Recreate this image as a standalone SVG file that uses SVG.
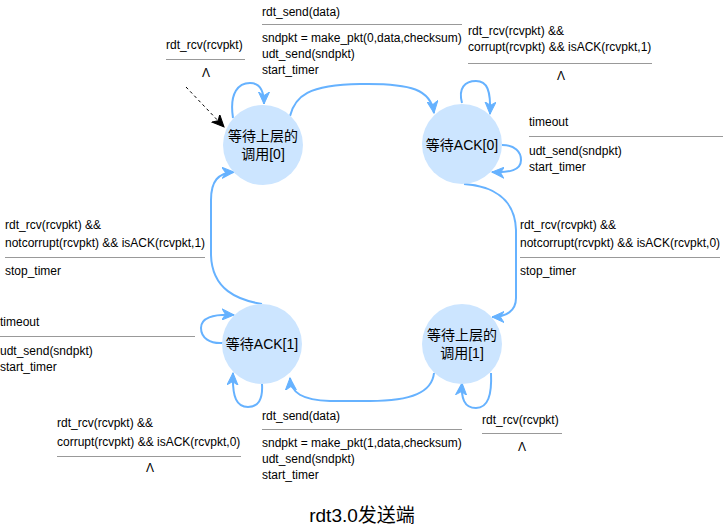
<svg xmlns="http://www.w3.org/2000/svg" width="725" height="528" viewBox="0 0 725 528">
<style>
.node{fill:#cce5ff;stroke:none}
.nt{font-family:"Liberation Sans","Noto Sans CJK SC",sans-serif;font-size:14px;fill:#000;text-anchor:middle}
.lb{font-family:"Liberation Sans",Arial,sans-serif;font-size:12px;fill:#000}
.mid{text-anchor:middle}
.sep{stroke:#999;stroke-width:1;fill:none}
.edge{fill:none;stroke:#66b2ff;stroke-width:2;marker-end:url(#arr)}
.title{font-family:"Liberation Sans","Noto Sans CJK SC",sans-serif;font-size:19px;fill:#000;text-anchor:middle}
</style>
<defs>
<marker id="arr" markerUnits="userSpaceOnUse" markerWidth="14" markerHeight="12" viewBox="0 0 14 12" refX="12" refY="6" orient="auto">
<path d="M0,0.5 L12,6 L0,11.5 L3.5,6 Z" fill="#66b2ff" stroke="#66b2ff" stroke-width="1"/>
</marker>
<marker id="arrk" markerUnits="userSpaceOnUse" markerWidth="14" markerHeight="12" viewBox="0 0 14 12" refX="12" refY="6" orient="auto">
<path d="M0,0.5 L12,6 L0,11.5 L3.5,6 Z" fill="#000" stroke="#000" stroke-width="1"/>
</marker>
</defs>
<g id="connectors">
<path class="edge" d="M233,118 C229,92 239,83 250,83 C260,83 264,90 264,104"/>
<path class="edge" d="M290,116 C295,96 308,85 360,84 C412,83 431,90 434,113"/>
<path class="edge" d="M462,103 C458,88 465,81 476,81 C487,81 491,90 490,114"/>
<path class="edge" d="M502,145 C515,145 521,152 521,160 C521,170 510,173 492,172"/>
<path class="edge" d="M464,184 C492,186 515,198 516,230 L516,298 C516,311 506,317 492,317"/>
<path class="edge" d="M491,373 C492,395 488,408 476,408 C464,408 461,398 462,383"/>
<path class="edge" d="M434,373 C432,392 412,401 370,401 L330,401 C302,400 291,393 290,378"/>
<path class="edge" d="M262,384 C263,400 258,407 248,407 C237,407 232,398 233,373"/>
<path class="edge" d="M223,343 C210,344 201,338 201,328 C201,318 212,314 234,315"/>
<path class="edge" d="M262,304 C238,300 212,290 211,255 L211,200 C211,181 218,173 234,172"/>
<path d="M186,87 L224,127" fill="none" stroke="#000" stroke-width="1" stroke-dasharray="3 3" marker-end="url(#arrk)"/>
</g>
<g id="node-wait0">
<circle class="node" cx="263" cy="145" r="40"/>
<text class="nt" x="263" y="141">等待上层的</text>
<text class="nt" x="263" y="159">调用[0]</text>
</g>
<g id="node-ack0">
<circle class="node" cx="462" cy="144" r="40"/>
<text class="nt" x="462" y="150">等待ACK[0]</text>
</g>
<g id="node-ack1">
<circle class="node" cx="262" cy="344" r="40"/>
<text class="nt" x="262" y="349">等待ACK[1]</text>
</g>
<g id="node-wait1">
<circle class="node" cx="462" cy="344" r="40"/>
<text class="nt" x="462" y="340">等待上层的</text>
<text class="nt" x="462" y="358">调用[1]</text>
</g>
<g id="labels">
<text class="lb" x="262" y="16">rdt_send(data)</text>
<line class="sep" x1="262" y1="24.5" x2="462" y2="24.5"/>
<text class="lb" x="262" y="42">sndpkt = make_pkt(0,data,checksum)</text>
<text class="lb" x="262" y="58">udt_send(sndpkt)</text>
<text class="lb" x="262" y="74">start_timer</text>

<text class="lb" x="166" y="49">rdt_rcv(rcvpkt)</text>
<line class="sep" x1="166" y1="59.5" x2="245" y2="59.5"/>
<text class="lb mid" x="206" y="77">Λ</text>

<text class="lb" x="468" y="35">rdt_rcv(rcvpkt) &amp;&amp;</text>
<text class="lb" x="468" y="51">corrupt(rcvpkt) &amp;&amp; isACK(rcvpkt,1)</text>
<line class="sep" x1="468" y1="63.5" x2="652" y2="63.5"/>
<text class="lb mid" x="561" y="80">Λ</text>

<text class="lb" x="529" y="126">timeout</text>
<line class="sep" x1="529" y1="136.5" x2="723" y2="136.5"/>
<text class="lb" x="529" y="155">udt_send(sndpkt)</text>
<text class="lb" x="529" y="171">start_timer</text>

<text class="lb" x="5" y="229">rdt_rcv(rcvpkt) &amp;&amp;</text>
<text class="lb" x="5" y="247">notcorrupt(rcvpkt) &amp;&amp; isACK(rcvpkt,1)</text>
<line class="sep" x1="5" y1="257.5" x2="205" y2="257.5"/>
<text class="lb" x="5" y="275">stop_timer</text>

<text class="lb" x="0" y="326">timeout</text>
<line class="sep" x1="0" y1="336.5" x2="195" y2="336.5"/>
<text class="lb" x="0" y="355">udt_send(sndpkt)</text>
<text class="lb" x="0" y="371">start_timer</text>

<text class="lb" x="520" y="229">rdt_rcv(rcvpkt) &amp;&amp;</text>
<text class="lb" x="520" y="247">notcorrupt(rcvpkt) &amp;&amp; isACK(rcvpkt,0)</text>
<line class="sep" x1="520" y1="257.5" x2="720" y2="257.5"/>
<text class="lb" x="520" y="275">stop_timer</text>

<text class="lb" x="482" y="424">rdt_rcv(rcvpkt)</text>
<line class="sep" x1="482" y1="433.5" x2="562" y2="433.5"/>
<text class="lb mid" x="522" y="451">Λ</text>

<text class="lb" x="57" y="427">rdt_rcv(rcvpkt) &amp;&amp;</text>
<text class="lb" x="57" y="446">corrupt(rcvpkt) &amp;&amp; isACK(rcvpkt,0)</text>
<line class="sep" x1="57" y1="456.5" x2="241" y2="456.5"/>
<text class="lb mid" x="150" y="472">Λ</text>

<text class="lb" x="262" y="420">rdt_send(data)</text>
<line class="sep" x1="262" y1="429.5" x2="462" y2="429.5"/>
<text class="lb" x="262" y="447">sndpkt = make_pkt(1,data,checksum)</text>
<text class="lb" x="262" y="463">udt_send(sndpkt)</text>
<text class="lb" x="262" y="479">start_timer</text>

<text class="title" x="362" y="522">rdt3.0发送端</text>
</g>
</svg>
